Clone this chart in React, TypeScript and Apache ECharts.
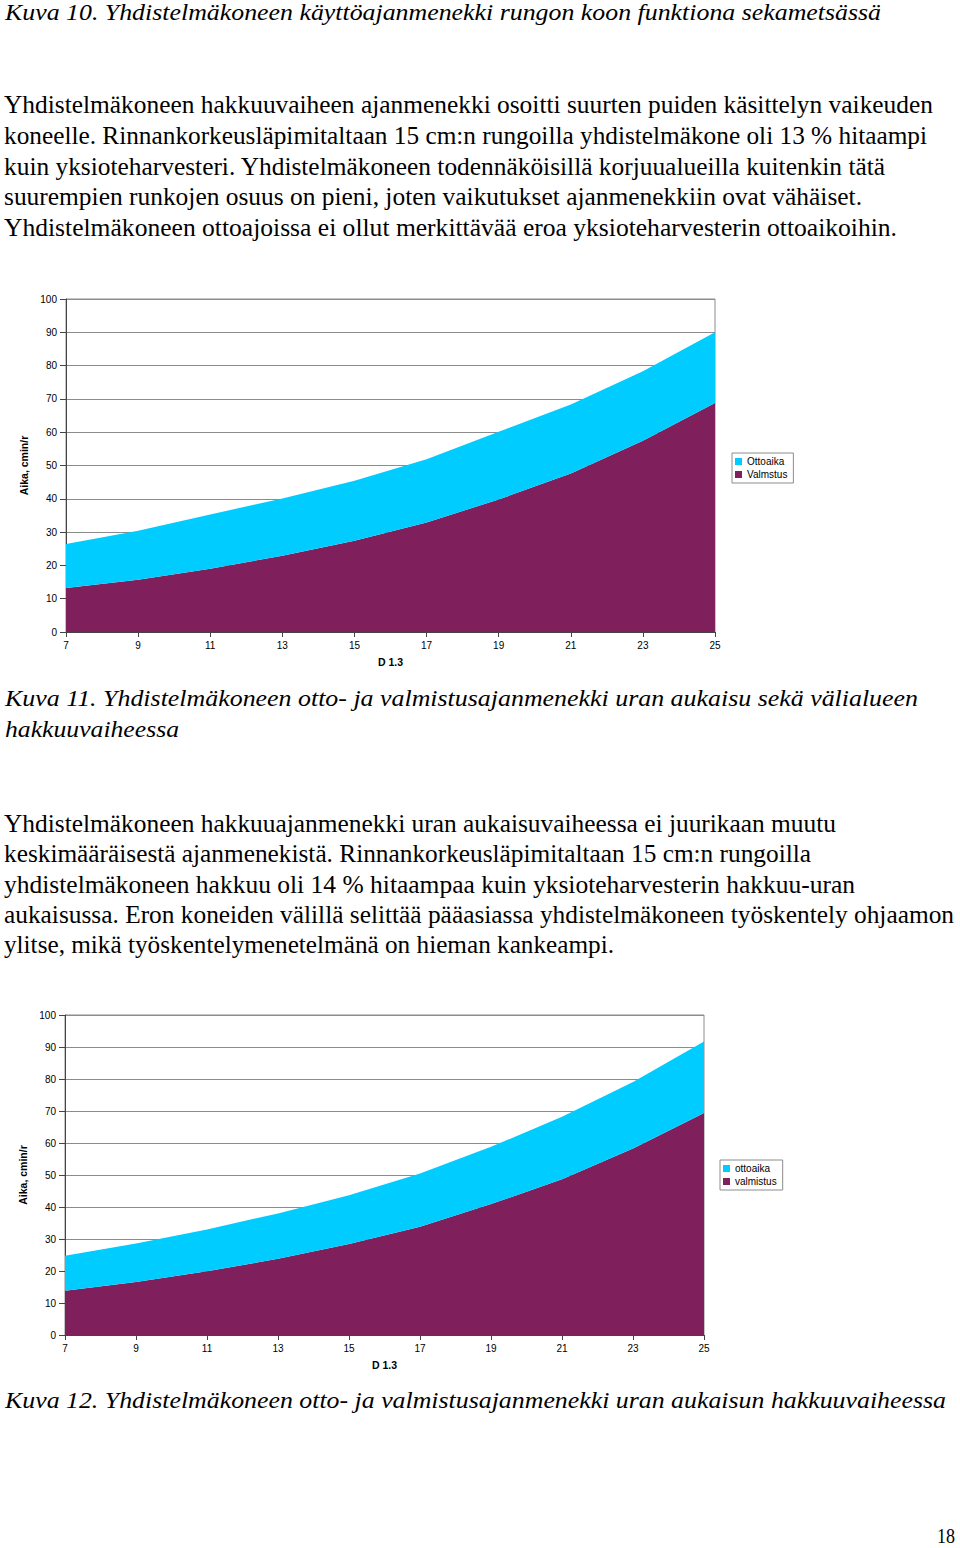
import React, { useEffect, useRef } from "react";
import * as echarts from "echarts";

// ---------- data ----------
const diameters = ["7", "9", "11", "13", "15", "17", "19", "21", "23", "25"];

// Kuva 11
const valmistus11 = [13.2, 15.7, 19.0, 22.9, 27.4, 32.9, 39.8, 47.6, 57.4, 68.8];
const ottoaika11 = [13.2, 14.7, 16.3, 17.2, 18.0, 19.0, 20.3, 20.7, 20.9, 21.2];
const legend11 = ["Ottoaika", "Valmstus"];

// Kuva 12
const valmistus12 = [13.8, 16.6, 19.9, 23.8, 28.4, 33.8, 40.9, 48.7, 58.3, 69.4];
const ottoaika12 = [11.0, 12.0, 13.1, 14.2, 15.3, 16.7, 17.9, 19.5, 20.8, 22.3];
const legend12 = ["ottoaika", "valmistus"];

const yAxisName = "Aika, cmin/r";
const xAxisName = "D 1.3";

// ---------- text ----------
const SERIF = "'Liberation Serif', 'Times New Roman', serif";

type TL = { text: string; left: number; right: number; baseline: number; size: number; italic?: boolean };

const textLines: TL[] = [
  { text: "Kuva 10. Yhdistelmäkoneen käyttöajanmenekki rungon koon funktiona sekametsässä", left: 5, right: 881, baseline: 20, size: 23, italic: true },
  { text: "Yhdistelmäkoneen hakkuuvaiheen ajanmenekki osoitti suurten puiden käsittelyn vaikeuden", left: 4, right: 933, baseline: 113, size: 25 },
  { text: "koneelle. Rinnankorkeusläpimitaltaan 15 cm:n rungoilla yhdistelmäkone oli 13 % hitaampi", left: 4, right: 927, baseline: 144, size: 25 },
  { text: "kuin yksioteharvesteri. Yhdistelmäkoneen todennäköisillä korjuualueilla kuitenkin tätä", left: 4, right: 886, baseline: 175, size: 25 },
  { text: "suurempien runkojen osuus on pieni, joten vaikutukset ajanmenekkiin ovat vähäiset.", left: 4, right: 862, baseline: 205, size: 25 },
  { text: "Yhdistelmäkoneen ottoajoissa ei ollut merkittävää eroa yksioteharvesterin ottoaikoihin.", left: 4, right: 897, baseline: 236, size: 25 },
  { text: "Kuva 11. Yhdistelmäkoneen otto- ja valmistusajanmenekki uran aukaisu sekä välialueen", left: 5, right: 918, baseline: 706, size: 23, italic: true },
  { text: "hakkuuvaiheessa", left: 5, right: 179, baseline: 737, size: 23, italic: true },
  { text: "Yhdistelmäkoneen hakkuuajanmenekki uran aukaisuvaiheessa ei juurikaan muutu", left: 4, right: 836, baseline: 832, size: 25 },
  { text: "keskimääräisestä ajanmenekistä. Rinnankorkeusläpimitaltaan 15 cm:n rungoilla", left: 4, right: 811, baseline: 862, size: 25 },
  { text: "yhdistelmäkoneen hakkuu oli 14 % hitaampaa kuin yksioteharvesterin hakkuu-uran", left: 4, right: 855, baseline: 893, size: 25 },
  { text: "aukaisussa. Eron koneiden välillä selittää pääasiassa yhdistelmäkoneen työskentely ohjaamon", left: 4, right: 954, baseline: 923, size: 25 },
  { text: "ylitse, mikä työskentelymenetelmänä on hieman kankeampi.", left: 4, right: 614, baseline: 953, size: 25 },
  { text: "Kuva 12. Yhdistelmäkoneen otto- ja valmistusajanmenekki uran aukaisun hakkuuvaiheessa", left: 5, right: 946, baseline: 1408, size: 23, italic: true },
  { text: "18", left: 937, right: 955, baseline: 1543, size: 22 },
];

let measureCtx: CanvasRenderingContext2D | null = null;
function measure(text: string, font: string): number {
  if (!measureCtx) measureCtx = document.createElement("canvas").getContext("2d");
  if (!measureCtx) return 0;
  measureCtx.font = font;
  return measureCtx.measureText(text).width;
}

function TextLine({ l }: { l: TL }) {
  const font = `${l.italic ? "italic " : ""}${l.size}px 'Liberation Serif'`;
  const natural = measure(l.text, font) || 1;
  const scale = (l.right - l.left) / natural;
  return (
    <div
      style={{
        position: "absolute",
        left: l.left,
        top: l.baseline - 0.8375 * l.size,
        fontFamily: SERIF,
        fontSize: l.size,
        fontStyle: l.italic ? "italic" : "normal",
        lineHeight: `${l.size}px`,
        whiteSpace: "nowrap",
        color: "#000",
        transformOrigin: "0 0",
        transform: `scaleX(${scale})`,
      }}
    >
      {l.text}
    </div>
  );
}

// ---------- chart ----------
const CYAN = "#00CCFF";
const PLUM = "#7F1F5C";
const SANS = "'Liberation Sans', Arial, sans-serif";

type ChartProps = {
  top: number;
  height: number;
  grid: { left: number; top: number; width: number; height: number };
  legendPos: { left: number; top: number };
  names: string[];
  otto: number[];
  valm: number[];
};

function AreaChart(p: ChartProps) {
  const ref = useRef<HTMLDivElement>(null);
  useEffect(() => {
    if (!ref.current) return;
    const chart = echarts.init(ref.current, null, { renderer: "svg" });
    chart.setOption({
      animation: false,
      backgroundColor: "transparent",
      grid: {
        left: p.grid.left,
        top: p.grid.top,
        width: p.grid.width,
        height: p.grid.height,
        show: true,
        borderColor: "#8c8c8c",
        borderWidth: 1,
        backgroundColor: "transparent",
      },
      legend: {
        orient: "vertical",
        left: p.legendPos.left,
        top: p.legendPos.top,
        data: [p.names[0], p.names[1]],
        icon: "rect",
        itemWidth: 7,
        itemHeight: 7,
        itemGap: 2,
        itemTextGap: 4,
        padding: [3, 6, 3, 3],
        borderColor: "#8c8c8c",
        borderWidth: 1,
        backgroundColor: "#fff",
        textStyle: { fontFamily: SANS, fontSize: 10, color: "#000", lineHeight: 11 },
      },
      xAxis: {
        type: "category",
        data: diameters,
        boundaryGap: false,
        name: xAxisName,
        nameLocation: "middle",
        nameGap: 24,
        nameTextStyle: { fontFamily: SANS, fontSize: 10.5, fontWeight: "bold", color: "#000" },
        axisLine: { lineStyle: { color: "#444", width: 1 } },
        axisTick: { show: true, length: 5, lineStyle: { color: "#444" } },
        axisLabel: { fontFamily: SANS, fontSize: 10, color: "#000", margin: 8 },
        splitLine: { show: false },
        z: 10,
      },
      yAxis: {
        type: "value",
        min: 0,
        max: 100,
        interval: 10,
        name: yAxisName,
        nameLocation: "middle",
        nameGap: 33,
        nameRotate: 90,
        nameTextStyle: { fontFamily: SANS, fontSize: 10.5, fontWeight: "bold", color: "#000" },
        axisLine: { show: true, lineStyle: { color: "#444", width: 1 } },
        axisTick: { show: true, length: 6, lineStyle: { color: "#444" } },
        axisLabel: { fontFamily: SANS, fontSize: 10, color: "#000", margin: 9 },
        splitLine: { show: true, lineStyle: { color: "#8c8c8c", width: 1 } },
      },
      series: [
        {
          name: p.names[1],
          type: "line",
          stack: "total",
          data: p.valm,
          symbol: "none",
          lineStyle: { width: 0 },
          itemStyle: { color: PLUM },
          areaStyle: { color: PLUM, opacity: 1 },
        },
        {
          name: p.names[0],
          type: "line",
          stack: "total",
          data: p.otto,
          symbol: "none",
          lineStyle: { width: 0 },
          itemStyle: { color: CYAN },
          areaStyle: { color: CYAN, opacity: 1 },
        },
      ],
    });
    return () => chart.dispose();
  }, []);
  return (
    <div
      ref={ref}
      style={{ position: "absolute", left: 0, top: p.top, width: 960, height: p.height }}
    />
  );
}

export default function App() {
  return (
    <div
      style={{
        position: "absolute",
        left: 0,
        top: 0,
        width: 960,
        height: 1548,
        background: "#fff",
        overflow: "hidden",
      }}
    >
      {textLines.map((l, i) => (
        <TextLine key={i} l={l} />
      ))}
      <AreaChart
        top={285}
        height={400}
        grid={{ left: 66, top: 14, width: 649, height: 333 }}
        legendPos={{ left: 732, top: 168 }}
        names={legend11}
        otto={ottoaika11}
        valm={valmistus11}
      />
      <AreaChart
        top={1000}
        height={380}
        grid={{ left: 65, top: 15, width: 639, height: 320 }}
        legendPos={{ left: 720, top: 160 }}
        names={legend12}
        otto={ottoaika12}
        valm={valmistus12}
      />
    </div>
  );
}
